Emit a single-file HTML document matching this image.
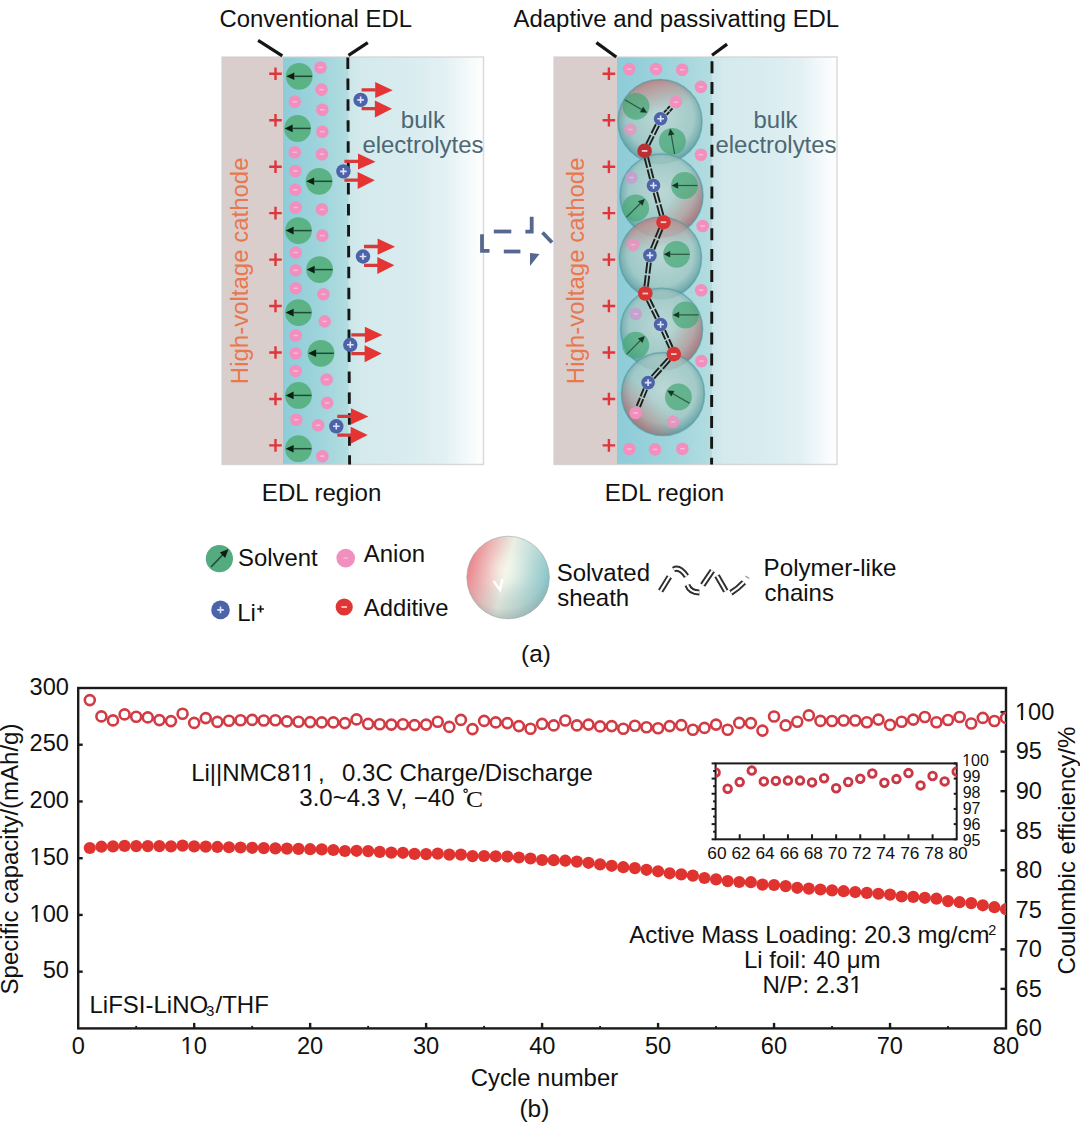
<!DOCTYPE html><html><head><meta charset="utf-8"><style>html,body{margin:0;padding:0;background:#fff;width:1080px;height:1122px;overflow:hidden}</style></head><body><svg width="1080" height="1122" viewBox="0 0 1080 1122" style="display:block;font-family:'Liberation Sans', sans-serif">
<defs>
<linearGradient id="edl" x1="0" x2="1" y1="0" y2="0"><stop offset="0" stop-color="#8dccd8"/><stop offset="0.6" stop-color="#a0d5dc"/><stop offset="1" stop-color="#b3dde0"/></linearGradient>
<linearGradient id="bulk" x1="0" x2="1" y1="0" y2="0"><stop offset="0" stop-color="#cbe5e9"/><stop offset="0.1" stop-color="#d4eaed"/><stop offset="0.5" stop-color="#daedf0"/><stop offset="0.7" stop-color="#e2f0f3"/><stop offset="0.86" stop-color="#f1f8f9"/><stop offset="0.97" stop-color="#fcfefe"/></linearGradient>
<radialGradient id="sph" cx="0.5" cy="0.45" r="0.55"><stop offset="0" stop-color="#c4d9d4" stop-opacity="0.78"/><stop offset="0.72" stop-color="#a2c7c2" stop-opacity="0.78"/><stop offset="1" stop-color="#5a9aa0" stop-opacity="0.9"/></radialGradient>
<linearGradient id="legsph" x1="0" x2="1" y1="0.2" y2="0.5"><stop offset="0" stop-color="#f08a8c"/><stop offset="0.3" stop-color="#f2d2cf"/><stop offset="0.5" stop-color="#e4f0e6"/><stop offset="0.75" stop-color="#b9dcd9"/><stop offset="1" stop-color="#86c3c8"/></linearGradient>
<radialGradient id="legshade" cx="0.4" cy="0.35" r="0.65"><stop offset="0" stop-color="#fff" stop-opacity="0.35"/><stop offset="0.7" stop-color="#fff" stop-opacity="0"/><stop offset="1" stop-color="#557" stop-opacity="0.25"/></radialGradient>
<clipPath id="plotclip"><rect x="78" y="688" width="928" height="340"/></clipPath>
<clipPath id="insetclip"><rect x="715.6" y="763.4" width="241.1" height="76"/></clipPath>
</defs>
<rect width="1080" height="1122" fill="#fff"/>
<rect x="347.5" y="57" width="136.0" height="407.5" fill="url(#bulk)"/>
<rect x="222" y="57" width="61" height="407.5" fill="#d9cecc"/>
<rect x="283" y="57" width="65.5" height="407.5" fill="url(#edl)"/>
<rect x="222" y="57" width="261.5" height="407.5" fill="none" stroke="#cfcfcf" stroke-opacity="0.8" stroke-width="1.4"/>
<rect x="711" y="57" width="126" height="407.5" fill="url(#bulk)"/>
<rect x="554" y="57" width="63" height="407.5" fill="#d9cecc"/>
<rect x="617" y="57" width="95" height="407.5" fill="url(#edl)"/>
<rect x="554" y="57" width="283" height="407.5" fill="none" stroke="#cfcfcf" stroke-opacity="0.8" stroke-width="1.4"/>
<path d="M269.2 73.8H281.8M275.5 67.5V80.1" stroke="#e0353a" stroke-width="2.4" fill="none"/>
<path d="M602.6 73.8H615.1999999999999M608.9 67.5V80.1" stroke="#e0353a" stroke-width="2.4" fill="none"/>
<path d="M269.2 120.25H281.8M275.5 113.95V126.55" stroke="#e0353a" stroke-width="2.4" fill="none"/>
<path d="M602.6 120.25H615.1999999999999M608.9 113.95V126.55" stroke="#e0353a" stroke-width="2.4" fill="none"/>
<path d="M269.2 166.7H281.8M275.5 160.39999999999998V173.0" stroke="#e0353a" stroke-width="2.4" fill="none"/>
<path d="M602.6 166.7H615.1999999999999M608.9 160.39999999999998V173.0" stroke="#e0353a" stroke-width="2.4" fill="none"/>
<path d="M269.2 213.15000000000003H281.8M275.5 206.85000000000002V219.45000000000005" stroke="#e0353a" stroke-width="2.4" fill="none"/>
<path d="M602.6 213.15000000000003H615.1999999999999M608.9 206.85000000000002V219.45000000000005" stroke="#e0353a" stroke-width="2.4" fill="none"/>
<path d="M269.2 259.6H281.8M275.5 253.3V265.90000000000003" stroke="#e0353a" stroke-width="2.4" fill="none"/>
<path d="M602.6 259.6H615.1999999999999M608.9 253.3V265.90000000000003" stroke="#e0353a" stroke-width="2.4" fill="none"/>
<path d="M269.2 306.05H281.8M275.5 299.75V312.35" stroke="#e0353a" stroke-width="2.4" fill="none"/>
<path d="M602.6 306.05H615.1999999999999M608.9 299.75V312.35" stroke="#e0353a" stroke-width="2.4" fill="none"/>
<path d="M269.2 352.50000000000006H281.8M275.5 346.20000000000005V358.80000000000007" stroke="#e0353a" stroke-width="2.4" fill="none"/>
<path d="M602.6 352.50000000000006H615.1999999999999M608.9 346.20000000000005V358.80000000000007" stroke="#e0353a" stroke-width="2.4" fill="none"/>
<path d="M269.2 398.95000000000005H281.8M275.5 392.65000000000003V405.25000000000006" stroke="#e0353a" stroke-width="2.4" fill="none"/>
<path d="M602.6 398.95000000000005H615.1999999999999M608.9 392.65000000000003V405.25000000000006" stroke="#e0353a" stroke-width="2.4" fill="none"/>
<path d="M269.2 445.40000000000003H281.8M275.5 439.1V451.70000000000005" stroke="#e0353a" stroke-width="2.4" fill="none"/>
<path d="M602.6 445.40000000000003H615.1999999999999M608.9 439.1V451.70000000000005" stroke="#e0353a" stroke-width="2.4" fill="none"/>
<circle cx="320.4" cy="67.5" r="6.3" fill="#f18fbf" fill-opacity="1"/>
<path d="M318.2 67.5H322.59999999999997" stroke="#fbd9e8" stroke-width="1.5" stroke-opacity="0.60"/>
<circle cx="321.5" cy="89.6" r="6.3" fill="#f18fbf" fill-opacity="1"/>
<path d="M319.3 89.6H323.7" stroke="#fbd9e8" stroke-width="1.5" stroke-opacity="0.60"/>
<circle cx="294.8" cy="101.8" r="6.3" fill="#f18fbf" fill-opacity="1"/>
<path d="M292.6 101.8H297.0" stroke="#fbd9e8" stroke-width="1.5" stroke-opacity="0.60"/>
<circle cx="322.3" cy="109.7" r="6.3" fill="#f18fbf" fill-opacity="1"/>
<path d="M320.1 109.7H324.5" stroke="#fbd9e8" stroke-width="1.5" stroke-opacity="0.60"/>
<circle cx="322.3" cy="131.7" r="6.3" fill="#f18fbf" fill-opacity="1"/>
<path d="M320.1 131.7H324.5" stroke="#fbd9e8" stroke-width="1.5" stroke-opacity="0.60"/>
<circle cx="294.8" cy="152.3" r="6.3" fill="#f18fbf" fill-opacity="1"/>
<path d="M292.6 152.3H297.0" stroke="#fbd9e8" stroke-width="1.5" stroke-opacity="0.60"/>
<circle cx="321.9" cy="154.2" r="6.3" fill="#f18fbf" fill-opacity="1"/>
<path d="M319.7 154.2H324.09999999999997" stroke="#fbd9e8" stroke-width="1.5" stroke-opacity="0.60"/>
<circle cx="295.3" cy="171" r="6.3" fill="#f18fbf" fill-opacity="1"/>
<path d="M293.1 171H297.5" stroke="#fbd9e8" stroke-width="1.5" stroke-opacity="0.60"/>
<circle cx="295.3" cy="189.8" r="6.3" fill="#f18fbf" fill-opacity="1"/>
<path d="M293.1 189.8H297.5" stroke="#fbd9e8" stroke-width="1.5" stroke-opacity="0.60"/>
<circle cx="295.7" cy="207.5" r="6.3" fill="#f18fbf" fill-opacity="1"/>
<path d="M293.5 207.5H297.9" stroke="#fbd9e8" stroke-width="1.5" stroke-opacity="0.60"/>
<circle cx="321.9" cy="209.4" r="6.3" fill="#f18fbf" fill-opacity="1"/>
<path d="M319.7 209.4H324.09999999999997" stroke="#fbd9e8" stroke-width="1.5" stroke-opacity="0.60"/>
<circle cx="322.3" cy="235.6" r="6.3" fill="#f18fbf" fill-opacity="1"/>
<path d="M320.1 235.6H324.5" stroke="#fbd9e8" stroke-width="1.5" stroke-opacity="0.60"/>
<circle cx="295.7" cy="252.5" r="6.3" fill="#f18fbf" fill-opacity="1"/>
<path d="M293.5 252.5H297.9" stroke="#fbd9e8" stroke-width="1.5" stroke-opacity="0.60"/>
<circle cx="295.7" cy="270.3" r="6.3" fill="#f18fbf" fill-opacity="1"/>
<path d="M293.5 270.3H297.9" stroke="#fbd9e8" stroke-width="1.5" stroke-opacity="0.60"/>
<circle cx="295.7" cy="288.3" r="6.3" fill="#f18fbf" fill-opacity="1"/>
<path d="M293.5 288.3H297.9" stroke="#fbd9e8" stroke-width="1.5" stroke-opacity="0.60"/>
<circle cx="323.4" cy="294.3" r="6.3" fill="#f18fbf" fill-opacity="1"/>
<path d="M321.2 294.3H325.59999999999997" stroke="#fbd9e8" stroke-width="1.5" stroke-opacity="0.60"/>
<circle cx="324.7" cy="321.4" r="6.3" fill="#f18fbf" fill-opacity="1"/>
<path d="M322.5 321.4H326.9" stroke="#fbd9e8" stroke-width="1.5" stroke-opacity="0.60"/>
<circle cx="295.7" cy="335.5" r="6.3" fill="#f18fbf" fill-opacity="1"/>
<path d="M293.5 335.5H297.9" stroke="#fbd9e8" stroke-width="1.5" stroke-opacity="0.60"/>
<circle cx="295.7" cy="353.3" r="6.3" fill="#f18fbf" fill-opacity="1"/>
<path d="M293.5 353.3H297.9" stroke="#fbd9e8" stroke-width="1.5" stroke-opacity="0.60"/>
<circle cx="295.7" cy="371" r="6.3" fill="#f18fbf" fill-opacity="1"/>
<path d="M293.5 371H297.9" stroke="#fbd9e8" stroke-width="1.5" stroke-opacity="0.60"/>
<circle cx="326.6" cy="379.5" r="6.3" fill="#f18fbf" fill-opacity="1"/>
<path d="M324.40000000000003 379.5H328.8" stroke="#fbd9e8" stroke-width="1.5" stroke-opacity="0.60"/>
<circle cx="327.1" cy="402.9" r="6.3" fill="#f18fbf" fill-opacity="1"/>
<path d="M324.90000000000003 402.9H329.3" stroke="#fbd9e8" stroke-width="1.5" stroke-opacity="0.60"/>
<circle cx="296.3" cy="419.7" r="6.3" fill="#f18fbf" fill-opacity="1"/>
<path d="M294.1 419.7H298.5" stroke="#fbd9e8" stroke-width="1.5" stroke-opacity="0.60"/>
<circle cx="318.1" cy="425.3" r="6.3" fill="#f18fbf" fill-opacity="1"/>
<path d="M315.90000000000003 425.3H320.3" stroke="#fbd9e8" stroke-width="1.5" stroke-opacity="0.60"/>
<circle cx="322.3" cy="456.2" r="6.3" fill="#f18fbf" fill-opacity="1"/>
<path d="M320.1 456.2H324.5" stroke="#fbd9e8" stroke-width="1.5" stroke-opacity="0.60"/>
<circle cx="299.2" cy="76.3" r="13.4" fill="#5ab285" fill-opacity="1"/>
<path d="M312.10 76.30L294.30 76.30" stroke="#1f4a33" stroke-width="1.5" stroke-opacity="1"/>
<path d="M286.30 76.30L294.30 72.50L294.30 80.10Z" fill="#0c1f14" fill-opacity="1"/>
<circle cx="297.6" cy="128.4" r="13.4" fill="#5ab285" fill-opacity="1"/>
<path d="M310.50 128.40L292.70 128.40" stroke="#1f4a33" stroke-width="1.5" stroke-opacity="1"/>
<path d="M284.70 128.40L292.70 124.60L292.70 132.20Z" fill="#0c1f14" fill-opacity="1"/>
<circle cx="319.1" cy="181.3" r="13.4" fill="#5ab285" fill-opacity="1"/>
<path d="M332.00 181.30L314.20 181.30" stroke="#1f4a33" stroke-width="1.5" stroke-opacity="1"/>
<path d="M306.20 181.30L314.20 177.50L314.20 185.10Z" fill="#0c1f14" fill-opacity="1"/>
<circle cx="298.5" cy="230.6" r="13.4" fill="#5ab285" fill-opacity="1"/>
<path d="M311.40 230.60L293.60 230.60" stroke="#1f4a33" stroke-width="1.5" stroke-opacity="1"/>
<path d="M285.60 230.60L293.60 226.80L293.60 234.40Z" fill="#0c1f14" fill-opacity="1"/>
<circle cx="319.6" cy="269.6" r="13.4" fill="#5ab285" fill-opacity="1"/>
<path d="M332.50 269.60L314.70 269.60" stroke="#1f4a33" stroke-width="1.5" stroke-opacity="1"/>
<path d="M306.70 269.60L314.70 265.80L314.70 273.40Z" fill="#0c1f14" fill-opacity="1"/>
<circle cx="298.5" cy="312.6" r="13.4" fill="#5ab285" fill-opacity="1"/>
<path d="M311.40 312.60L293.60 312.60" stroke="#1f4a33" stroke-width="1.5" stroke-opacity="1"/>
<path d="M285.60 312.60L293.60 308.80L293.60 316.40Z" fill="#0c1f14" fill-opacity="1"/>
<circle cx="321" cy="353.3" r="13.4" fill="#5ab285" fill-opacity="1"/>
<path d="M333.90 353.30L316.10 353.30" stroke="#1f4a33" stroke-width="1.5" stroke-opacity="1"/>
<path d="M308.10 353.30L316.10 349.50L316.10 357.10Z" fill="#0c1f14" fill-opacity="1"/>
<circle cx="298.5" cy="395.4" r="13.4" fill="#5ab285" fill-opacity="1"/>
<path d="M311.40 395.40L293.60 395.40" stroke="#1f4a33" stroke-width="1.5" stroke-opacity="1"/>
<path d="M285.60 395.40L293.60 391.60L293.60 399.20Z" fill="#0c1f14" fill-opacity="1"/>
<circle cx="298.5" cy="448.7" r="13.4" fill="#5ab285" fill-opacity="1"/>
<path d="M311.40 448.70L293.60 448.70" stroke="#1f4a33" stroke-width="1.5" stroke-opacity="1"/>
<path d="M285.60 448.70L293.60 444.90L293.60 452.50Z" fill="#0c1f14" fill-opacity="1"/>
<path d="M347.80 57.50L347.85 69.00" stroke="#161616" stroke-width="2.9"/>
<path d="M347.89 78.43L347.94 89.93" stroke="#161616" stroke-width="2.9"/>
<path d="M347.99 99.36L348.04 110.86" stroke="#161616" stroke-width="2.9"/>
<path d="M348.08 120.29L348.13 131.79" stroke="#161616" stroke-width="2.9"/>
<path d="M348.17 141.22L348.22 152.72" stroke="#161616" stroke-width="2.9"/>
<path d="M348.26 162.15L348.31 173.65" stroke="#161616" stroke-width="2.9"/>
<path d="M348.36 183.08L348.41 194.58" stroke="#161616" stroke-width="2.9"/>
<path d="M348.45 204.01L348.50 215.51" stroke="#161616" stroke-width="2.9"/>
<path d="M348.54 224.94L348.59 236.44" stroke="#161616" stroke-width="2.9"/>
<path d="M348.63 245.87L348.68 257.37" stroke="#161616" stroke-width="2.9"/>
<path d="M348.73 266.80L348.78 278.30" stroke="#161616" stroke-width="2.9"/>
<path d="M348.82 287.73L348.87 299.23" stroke="#161616" stroke-width="2.9"/>
<path d="M348.91 308.66L348.96 320.16" stroke="#161616" stroke-width="2.9"/>
<path d="M349.00 329.59L349.05 341.09" stroke="#161616" stroke-width="2.9"/>
<path d="M349.10 350.52L349.15 362.02" stroke="#161616" stroke-width="2.9"/>
<path d="M349.19 371.45L349.24 382.95" stroke="#161616" stroke-width="2.9"/>
<path d="M349.28 392.38L349.33 403.88" stroke="#161616" stroke-width="2.9"/>
<path d="M349.37 413.31L349.42 424.81" stroke="#161616" stroke-width="2.9"/>
<path d="M349.47 434.24L349.52 445.74" stroke="#161616" stroke-width="2.9"/>
<path d="M349.56 455.17L349.60 464.50" stroke="#161616" stroke-width="2.9"/>
<path d="M361.6 89.9H375.6M361.6 108.7H375.6" stroke="#d63a3a" stroke-width="3.3"/>
<path d="M375.20000000000005 81.9L392.70000000000005 90.2L375.20000000000005 98.10000000000001Z" fill="#e53434"/>
<path d="M374.90000000000003 100.4L392.0 108.7L374.90000000000003 117.4Z" fill="#e53434"/>
<circle cx="360.6" cy="99.9" r="7.2" fill="#4d63a8"/>
<path d="M357.3 99.9H363.90000000000003M360.6 96.60000000000001V103.2" stroke="#dfe3ff" stroke-width="1.6"/>
<path d="M344.4 161.4H358.4M344.4 180.20000000000002H358.4" stroke="#d63a3a" stroke-width="3.3"/>
<path d="M358.0 153.4L375.5 161.70000000000002L358.0 169.6Z" fill="#e53434"/>
<path d="M357.7 171.9L374.79999999999995 180.20000000000002L357.7 188.9Z" fill="#e53434"/>
<circle cx="343.4" cy="171.4" r="7.2" fill="#4d63a8"/>
<path d="M340.09999999999997 171.4H346.7M343.4 168.1V174.70000000000002" stroke="#dfe3ff" stroke-width="1.6"/>
<path d="M364 246.5H378M364 265.3H378" stroke="#d63a3a" stroke-width="3.3"/>
<path d="M377.6 238.5L395.1 246.8L377.6 254.7Z" fill="#e53434"/>
<path d="M377.3 257.0L394.4 265.3L377.3 274.0Z" fill="#e53434"/>
<circle cx="363" cy="256.5" r="7.2" fill="#4d63a8"/>
<path d="M359.7 256.5H366.3M363 253.2V259.8" stroke="#dfe3ff" stroke-width="1.6"/>
<path d="M351.3 334.8H365.3M351.3 353.6H365.3" stroke="#d63a3a" stroke-width="3.3"/>
<path d="M364.90000000000003 326.8L382.40000000000003 335.1L364.90000000000003 343.0Z" fill="#e53434"/>
<path d="M364.6 345.3L381.7 353.6L364.6 362.3Z" fill="#e53434"/>
<circle cx="350.3" cy="344.8" r="7.2" fill="#4d63a8"/>
<path d="M347.0 344.8H353.6M350.3 341.5V348.1" stroke="#dfe3ff" stroke-width="1.6"/>
<path d="M337.3 416.3H351.3M337.3 435.1H351.3" stroke="#d63a3a" stroke-width="3.3"/>
<path d="M350.90000000000003 408.3L368.40000000000003 416.6L350.90000000000003 424.5Z" fill="#e53434"/>
<path d="M350.6 426.8L367.7 435.1L350.6 443.8Z" fill="#e53434"/>
<circle cx="336.3" cy="426.3" r="7.2" fill="#4d63a8"/>
<path d="M333.0 426.3H339.6M336.3 423.0V429.6" stroke="#dfe3ff" stroke-width="1.6"/>
<path d="M258.1 40.4L282.3 55.9" stroke="#151515" stroke-width="3.2" stroke-linecap="butt"/>
<path d="M348.5 55.4L367.8 42.6" stroke="#151515" stroke-width="3.2" stroke-linecap="butt"/>
<path d="M596.4 42.6L616.3 57" stroke="#151515" stroke-width="3.2" stroke-linecap="butt"/>
<path d="M712 55.2L727.1 44.1" stroke="#151515" stroke-width="3.2" stroke-linecap="butt"/>
<circle cx="629.2" cy="69.1" r="6.3" fill="#f18fbf" fill-opacity="1"/>
<path d="M627.0 69.1H631.4000000000001" stroke="#fbd9e8" stroke-width="1.5" stroke-opacity="0.60"/>
<circle cx="656" cy="69" r="6.3" fill="#f18fbf" fill-opacity="1"/>
<path d="M653.8 69H658.2" stroke="#fbd9e8" stroke-width="1.5" stroke-opacity="0.60"/>
<circle cx="682.2" cy="69.8" r="6.3" fill="#f18fbf" fill-opacity="1"/>
<path d="M680.0 69.8H684.4000000000001" stroke="#fbd9e8" stroke-width="1.5" stroke-opacity="0.60"/>
<circle cx="700.9" cy="86.9" r="6.3" fill="#f18fbf" fill-opacity="1"/>
<path d="M698.6999999999999 86.9H703.1" stroke="#fbd9e8" stroke-width="1.5" stroke-opacity="0.60"/>
<circle cx="700.9" cy="154.7" r="6.3" fill="#f18fbf" fill-opacity="1"/>
<path d="M698.6999999999999 154.7H703.1" stroke="#fbd9e8" stroke-width="1.5" stroke-opacity="0.60"/>
<circle cx="702.7" cy="226" r="6.3" fill="#f18fbf" fill-opacity="1"/>
<path d="M700.5 226H704.9000000000001" stroke="#fbd9e8" stroke-width="1.5" stroke-opacity="0.60"/>
<circle cx="701.2" cy="290.2" r="6.3" fill="#f18fbf" fill-opacity="1"/>
<path d="M699.0 290.2H703.4000000000001" stroke="#fbd9e8" stroke-width="1.5" stroke-opacity="0.60"/>
<circle cx="701.4" cy="361.1" r="6.3" fill="#f18fbf" fill-opacity="1"/>
<path d="M699.1999999999999 361.1H703.6" stroke="#fbd9e8" stroke-width="1.5" stroke-opacity="0.60"/>
<circle cx="629.4" cy="449" r="6.3" fill="#f18fbf" fill-opacity="1"/>
<path d="M627.1999999999999 449H631.6" stroke="#fbd9e8" stroke-width="1.5" stroke-opacity="0.60"/>
<circle cx="655" cy="449.4" r="6.3" fill="#f18fbf" fill-opacity="1"/>
<path d="M652.8 449.4H657.2" stroke="#fbd9e8" stroke-width="1.5" stroke-opacity="0.60"/>
<circle cx="682.4" cy="448.7" r="6.3" fill="#f18fbf" fill-opacity="1"/>
<path d="M680.1999999999999 448.7H684.6" stroke="#fbd9e8" stroke-width="1.5" stroke-opacity="0.60"/>
<path d="M712.00 61.20L711.99 73.20" stroke="#161616" stroke-width="2.9"/>
<path d="M711.98 82.07L711.97 94.07" stroke="#161616" stroke-width="2.9"/>
<path d="M711.96 102.94L711.95 114.94" stroke="#161616" stroke-width="2.9"/>
<path d="M711.94 123.81L711.93 135.81" stroke="#161616" stroke-width="2.9"/>
<path d="M711.92 144.68L711.91 156.68" stroke="#161616" stroke-width="2.9"/>
<path d="M711.90 165.55L711.88 177.55" stroke="#161616" stroke-width="2.9"/>
<path d="M711.88 186.42L711.86 198.42" stroke="#161616" stroke-width="2.9"/>
<path d="M711.86 207.29L711.84 219.29" stroke="#161616" stroke-width="2.9"/>
<path d="M711.83 228.16L711.82 240.16" stroke="#161616" stroke-width="2.9"/>
<path d="M711.81 249.03L711.80 261.03" stroke="#161616" stroke-width="2.9"/>
<path d="M711.79 269.90L711.78 281.90" stroke="#161616" stroke-width="2.9"/>
<path d="M711.77 290.77L711.76 302.77" stroke="#161616" stroke-width="2.9"/>
<path d="M711.75 311.64L711.74 323.64" stroke="#161616" stroke-width="2.9"/>
<path d="M711.73 332.51L711.72 344.51" stroke="#161616" stroke-width="2.9"/>
<path d="M711.71 353.38L711.70 365.38" stroke="#161616" stroke-width="2.9"/>
<path d="M711.69 374.25L711.68 386.25" stroke="#161616" stroke-width="2.9"/>
<path d="M711.67 395.12L711.66 407.12" stroke="#161616" stroke-width="2.9"/>
<path d="M711.65 415.99L711.64 427.99" stroke="#161616" stroke-width="2.9"/>
<path d="M711.63 436.86L711.62 448.86" stroke="#161616" stroke-width="2.9"/>
<path d="M711.61 457.73L711.60 464.50" stroke="#161616" stroke-width="2.9"/>
<linearGradient id="rt0" x1="0.63" y1="0.98" x2="0.37" y2="0.02"><stop offset="0" stop-color="#d07070" stop-opacity="0"/><stop offset="0.62" stop-color="#d07070" stop-opacity="0"/><stop offset="1" stop-color="#d8585e" stop-opacity="0.55"/></linearGradient>
<circle cx="660" cy="121.5" r="42" fill="url(#sph)"/>
<circle cx="660" cy="121.5" r="42" fill="url(#rt0)" stroke="#4f979e" stroke-opacity="0.6" stroke-width="1.6"/>
<linearGradient id="rt1" x1="0.09" y1="0.21" x2="0.91" y2="0.79"><stop offset="0" stop-color="#d07070" stop-opacity="0"/><stop offset="0.62" stop-color="#d07070" stop-opacity="0"/><stop offset="1" stop-color="#d8585e" stop-opacity="0.55"/></linearGradient>
<circle cx="661.5" cy="195.5" r="41.5" fill="url(#sph)"/>
<circle cx="661.5" cy="195.5" r="41.5" fill="url(#rt1)" stroke="#4f979e" stroke-opacity="0.6" stroke-width="1.6"/>
<linearGradient id="rt2" x1="0.59" y1="0.99" x2="0.41" y2="0.01"><stop offset="0" stop-color="#d07070" stop-opacity="0"/><stop offset="0.62" stop-color="#d07070" stop-opacity="0"/><stop offset="1" stop-color="#d8585e" stop-opacity="0.55"/></linearGradient>
<circle cx="660.5" cy="258" r="41" fill="url(#sph)"/>
<circle cx="660.5" cy="258" r="41" fill="url(#rt2)" stroke="#4f979e" stroke-opacity="0.6" stroke-width="1.6"/>
<linearGradient id="rt3" x1="0.07" y1="0.25" x2="0.93" y2="0.75"><stop offset="0" stop-color="#d07070" stop-opacity="0"/><stop offset="0.62" stop-color="#d07070" stop-opacity="0"/><stop offset="1" stop-color="#d8585e" stop-opacity="0.55"/></linearGradient>
<circle cx="661.6" cy="329.2" r="41" fill="url(#sph)"/>
<circle cx="661.6" cy="329.2" r="41" fill="url(#rt3)" stroke="#4f979e" stroke-opacity="0.6" stroke-width="1.6"/>
<linearGradient id="rt4" x1="0.85" y1="0.15" x2="0.15" y2="0.85"><stop offset="0" stop-color="#d07070" stop-opacity="0"/><stop offset="0.62" stop-color="#d07070" stop-opacity="0"/><stop offset="1" stop-color="#d8585e" stop-opacity="0.55"/></linearGradient>
<circle cx="663" cy="394" r="41.5" fill="url(#sph)"/>
<circle cx="663" cy="394" r="41.5" fill="url(#rt4)" stroke="#4f979e" stroke-opacity="0.6" stroke-width="1.6"/>
<path d="M672.46 108.44L666.62 114.82" stroke="#1f1f1f" stroke-width="1.9" stroke-dasharray="3.98 0.69"/>
<path d="M669.88 106.08L664.04 112.46" stroke="#1f1f1f" stroke-width="1.9" stroke-dasharray="3.98 0.69"/>
<path d="M659.04 125.85L649.29 145.42" stroke="#1f1f1f" stroke-width="1.9" stroke-dasharray="10.06 1.75"/>
<path d="M655.91 124.28L646.16 143.85" stroke="#1f1f1f" stroke-width="1.9" stroke-dasharray="10.06 1.75"/>
<path d="M648.04 157.24L653.45 178.28" stroke="#1f1f1f" stroke-width="1.9" stroke-dasharray="9.99 1.74"/>
<path d="M644.65 158.12L650.06 179.16" stroke="#1f1f1f" stroke-width="1.9" stroke-dasharray="9.99 1.74"/>
<path d="M657.03 191.79L663.35 214.99" stroke="#1f1f1f" stroke-width="1.9" stroke-dasharray="11.06 1.92"/>
<path d="M653.65 192.71L659.97 215.91" stroke="#1f1f1f" stroke-width="1.9" stroke-dasharray="11.06 1.92"/>
<path d="M662.47 229.34L654.17 249.59" stroke="#1f1f1f" stroke-width="1.9" stroke-dasharray="10.06 1.75"/>
<path d="M659.23 228.01L650.93 248.26" stroke="#1f1f1f" stroke-width="1.9" stroke-dasharray="10.06 1.75"/>
<path d="M650.80 262.56L647.88 286.76" stroke="#1f1f1f" stroke-width="1.9" stroke-dasharray="11.21 1.95"/>
<path d="M647.32 262.14L644.40 286.34" stroke="#1f1f1f" stroke-width="1.9" stroke-dasharray="11.21 1.95"/>
<path d="M649.97 299.00L659.07 317.45" stroke="#1f1f1f" stroke-width="1.9" stroke-dasharray="9.46 1.65"/>
<path d="M646.83 300.55L655.93 319.00" stroke="#1f1f1f" stroke-width="1.9" stroke-dasharray="9.46 1.65"/>
<path d="M665.05 330.18L672.55 346.99" stroke="#1f1f1f" stroke-width="1.9" stroke-dasharray="8.47 1.47"/>
<path d="M661.85 331.61L669.35 348.42" stroke="#1f1f1f" stroke-width="1.9" stroke-dasharray="8.47 1.47"/>
<path d="M670.41 360.47L654.09 378.57" stroke="#1f1f1f" stroke-width="1.9" stroke-dasharray="11.21 1.95"/>
<path d="M667.81 358.13L651.49 376.23" stroke="#1f1f1f" stroke-width="1.9" stroke-dasharray="11.21 1.95"/>
<path d="M647.08 389.74L639.96 407.18" stroke="#1f1f1f" stroke-width="1.9" stroke-dasharray="8.66 1.51"/>
<path d="M643.84 388.42L636.72 405.86" stroke="#1f1f1f" stroke-width="1.9" stroke-dasharray="8.66 1.51"/>
<circle cx="675.9" cy="102.1" r="6.3" fill="#f18fbf" fill-opacity="1"/>
<path d="M673.6999999999999 102.1H678.1" stroke="#fbd9e8" stroke-width="1.5" stroke-opacity="0.60"/>
<circle cx="630.3" cy="129.5" r="6.3" fill="#f18fbf" fill-opacity="0.7"/>
<path d="M628.0999999999999 129.5H632.5" stroke="#fbd9e8" stroke-width="1.5" stroke-opacity="0.42"/>
<circle cx="636" cy="106.3" r="13.4" fill="#47a776" fill-opacity="0.72"/>
<path d="M624.83 99.85L641.54 109.50" stroke="#1f4a33" stroke-width="1.2" stroke-opacity="0.85"/>
<path d="M647.17 112.75L639.94 112.27L643.14 106.73Z" fill="#0c1f14" fill-opacity="0.85"/>
<circle cx="672.4" cy="141.3" r="13.4" fill="#47a776" fill-opacity="0.72"/>
<path d="M674.64 154.00L671.29 135.00" stroke="#1f4a33" stroke-width="1.2" stroke-opacity="0.85"/>
<path d="M670.16 128.60L674.44 134.44L668.14 135.55Z" fill="#0c1f14" fill-opacity="0.85"/>
<circle cx="660.6" cy="118.8" r="6.8" fill="#4d63a8"/>
<path d="M657.3000000000001 118.8H663.9M660.6 115.5V122.1" stroke="#dfe3ff" stroke-width="1.6"/>
<circle cx="644.6" cy="150.9" r="7.3" fill="#b92f33"/>
<path d="M641.8000000000001 150.9H647.4" stroke="#f6c8c8" stroke-width="1.8"/>
<circle cx="631.4" cy="177.6" r="6.3" fill="#c99ad0" fill-opacity="0.8"/>
<path d="M629.1999999999999 177.6H633.6" stroke="#fbd9e8" stroke-width="1.5" stroke-opacity="0.48"/>
<circle cx="653.5" cy="185.5" r="6.8" fill="#4d63a8"/>
<path d="M650.2 185.5H656.8M653.5 182.2V188.8" stroke="#dfe3ff" stroke-width="1.6"/>
<circle cx="684.5" cy="185.5" r="13.4" fill="#47a776" fill-opacity="0.72"/>
<path d="M697.40 185.50L678.10 185.50" stroke="#1f4a33" stroke-width="1.2" stroke-opacity="0.85"/>
<path d="M671.60 185.50L678.10 182.30L678.10 188.70Z" fill="#0c1f14" fill-opacity="0.85"/>
<circle cx="635.7" cy="208" r="13.4" fill="#47a776" fill-opacity="0.72"/>
<path d="M626.58 217.12L640.23 203.47" stroke="#1f4a33" stroke-width="1.2" stroke-opacity="0.85"/>
<path d="M644.82 198.88L642.49 205.74L637.96 201.21Z" fill="#0c1f14" fill-opacity="0.85"/>
<circle cx="663.5" cy="222.2" r="7.3" fill="#d83434"/>
<path d="M660.7 222.2H666.3" stroke="#f6c8c8" stroke-width="1.8"/>
<circle cx="633.2" cy="244.7" r="6.3" fill="#f18fbf" fill-opacity="0.8"/>
<path d="M631.0 244.7H635.4000000000001" stroke="#fbd9e8" stroke-width="1.5" stroke-opacity="0.48"/>
<circle cx="649.9" cy="255.4" r="6.8" fill="#4d63a8"/>
<path d="M646.6 255.4H653.1999999999999M649.9 252.1V258.7" stroke="#dfe3ff" stroke-width="1.6"/>
<circle cx="676.6" cy="254.3" r="13.4" fill="#47a776" fill-opacity="0.72"/>
<path d="M689.50 254.30L670.20 254.30" stroke="#1f4a33" stroke-width="1.2" stroke-opacity="0.85"/>
<path d="M663.70 254.30L670.20 251.10L670.20 257.50Z" fill="#0c1f14" fill-opacity="0.85"/>
<circle cx="645.3" cy="293.5" r="7.3" fill="#d83434"/>
<path d="M642.5 293.5H648.0999999999999" stroke="#f6c8c8" stroke-width="1.8"/>
<circle cx="635.7" cy="313.8" r="6.3" fill="#c99ad0" fill-opacity="0.8"/>
<path d="M633.5 313.8H637.9000000000001" stroke="#fbd9e8" stroke-width="1.5" stroke-opacity="0.48"/>
<circle cx="685.6" cy="314.9" r="13.4" fill="#47a776" fill-opacity="0.72"/>
<path d="M698.50 314.90L679.20 314.90" stroke="#1f4a33" stroke-width="1.2" stroke-opacity="0.85"/>
<path d="M672.70 314.90L679.20 311.70L679.20 318.10Z" fill="#0c1f14" fill-opacity="0.85"/>
<circle cx="660.6" cy="324.5" r="6.8" fill="#4d63a8"/>
<path d="M657.3000000000001 324.5H663.9M660.6 321.2V327.8" stroke="#dfe3ff" stroke-width="1.6"/>
<circle cx="635.7" cy="345.2" r="13.4" fill="#47a776" fill-opacity="0.72"/>
<path d="M626.58 354.32L640.23 340.67" stroke="#1f4a33" stroke-width="1.2" stroke-opacity="0.85"/>
<path d="M644.82 336.08L642.49 342.94L637.96 338.41Z" fill="#0c1f14" fill-opacity="0.85"/>
<circle cx="673.8" cy="354.1" r="7.3" fill="#d83434"/>
<path d="M671.0 354.1H676.5999999999999" stroke="#f6c8c8" stroke-width="1.8"/>
<circle cx="648.1" cy="382.6" r="6.8" fill="#4d63a8"/>
<path d="M644.8000000000001 382.6H651.4M648.1 379.3V385.90000000000003" stroke="#dfe3ff" stroke-width="1.6"/>
<circle cx="678.4" cy="396.9" r="13.4" fill="#47a776" fill-opacity="0.72"/>
<path d="M689.57 403.35L672.86 393.70" stroke="#1f4a33" stroke-width="1.2" stroke-opacity="0.85"/>
<path d="M667.23 390.45L674.46 390.93L671.26 396.47Z" fill="#0c1f14" fill-opacity="0.85"/>
<circle cx="635.7" cy="413" r="6.3" fill="#f18fbf" fill-opacity="1"/>
<path d="M633.5 413H637.9000000000001" stroke="#fbd9e8" stroke-width="1.5" stroke-opacity="0.60"/>
<circle cx="673.1" cy="421.9" r="6.3" fill="#f18fbf" fill-opacity="0.85"/>
<path d="M670.9 421.9H675.3000000000001" stroke="#fbd9e8" stroke-width="1.5" stroke-opacity="0.51"/>
<g stroke="#56688f" stroke-width="3.8" fill="none" stroke-linecap="butt">
<path d="M482 234.2V250.8H489.5"/>
<path d="M493.8 231.5H511.3"/>
<path d="M525.4 231.6H531.7V216.7"/>
<path d="M542.5 232.5L552 242.5"/>
<path d="M503.8 251.5H520.4"/>
</g>
<path d="M530 266L539.5 254L530 253Z" fill="#56688f"/>
<text x="219.49" y="26.60" font-size="23.882468168462292" fill="#111" >Conventional EDL</text>
<text x="513.55" y="26.90" font-size="23.924373674562382" fill="#111" >Adaptive and passivatting EDL</text>
<text x="400.74" y="128.30" font-size="24.160529217199564" fill="#4d6873" >bulk</text>
<text x="362.38" y="153.10" font-size="23.96061586741199" fill="#4d6873" >electrolytes</text>
<text x="753.56" y="128.30" font-size="23.934729878721047" fill="#4d6873" >bulk</text>
<text x="715.48" y="153.10" font-size="23.94053152888105" fill="#4d6873" >electrolytes</text>
<text transform="translate(248.30,382.20) rotate(-90)" x="-1.97" y="0" font-size="23.99" fill="#e9774f">High-voltage cathode</text>
<text transform="translate(584.10,382.20) rotate(-90)" x="-1.97" y="0" font-size="23.99" fill="#e9774f">High-voltage cathode</text>
<text x="261.83" y="500.90" font-size="24.073524384112616" fill="#111" >EDL region</text>
<text x="604.73" y="500.90" font-size="24.073524384112616" fill="#111" >EDL region</text>
<circle cx="219.4" cy="558.7" r="13.6" fill="#55ab80"/>
<path d="M211 567L223.5 554" stroke="#1f4a33" stroke-width="1.6"/>
<path d="M228.5 549L219.8 552.6L225.2 558Z" fill="#0c1f14"/>
<text x="238.02" y="566.40" font-size="23.882671426446528" fill="#111" >Solvent</text>
<circle cx="345.7" cy="558.1" r="9.3" fill="#f18fbf" fill-opacity="1"/>
<path d="M343.5 558.1H347.9" stroke="#fbd9e8" stroke-width="1.5" stroke-opacity="0.60"/>
<text x="363.85" y="561.60" font-size="23.928798274848077" fill="#111" >Anion</text>
<circle cx="220.5" cy="609.9" r="9.3" fill="#4d63a8"/>
<path d="M217.2 609.9H223.8M220.5 606.6V613.1999999999999" stroke="#dfe3ff" stroke-width="1.6"/>
<text x="237.13" y="620.60" font-size="24" fill="#111" >Li</text>
<path d="M257.2 609H263.9M260.55 605.4V612.6" stroke="#111" stroke-width="1.7"/>
<circle cx="344.2" cy="607" r="8.6" fill="#e03535"/>
<path d="M341.4 607H347.0" stroke="#f6c8c8" stroke-width="1.8"/>
<text x="363.85" y="616.00" font-size="23.809317202058132" fill="#111" >Additive</text>
<defs>
<linearGradient id="ls0" x1="0" y1="0.35" x2="1" y2="0.6"><stop offset="0" stop-color="#ec8088"/><stop offset="0.28" stop-color="#f0c2c0"/><stop offset="0.47" stop-color="#ecf1e5"/><stop offset="0.68" stop-color="#c6e1dc"/><stop offset="1" stop-color="#84c3c8"/></linearGradient>
<radialGradient id="ls1" cx="0.47" cy="0.4" r="0.6"><stop offset="0" stop-color="#fbfdf0" stop-opacity="0.55"/><stop offset="0.35" stop-color="#fbfdf0" stop-opacity="0.1"/><stop offset="0.8" stop-color="#8a9a98" stop-opacity="0"/><stop offset="1" stop-color="#8a9a98" stop-opacity="0.3"/></radialGradient>
<linearGradient id="ls2" x1="0" y1="0" x2="0" y2="1"><stop offset="0" stop-color="#f0b0b0" stop-opacity="0.0"/><stop offset="1" stop-color="#f0b0b0" stop-opacity="0"/></linearGradient>
<linearGradient id="ls3" x1="0" y1="0.55" x2="0" y2="1"><stop offset="0" stop-color="#9aa8a2" stop-opacity="0"/><stop offset="1" stop-color="#9aa8a2" stop-opacity="0.35"/></linearGradient>
</defs>
<circle cx="508.1" cy="577.5" r="41.3" fill="url(#ls0)"/>
<circle cx="508.1" cy="577.5" r="41.3" fill="url(#ls1)"/>
<circle cx="508.1" cy="577.5" r="41.3" fill="url(#ls2)"/>
<circle cx="508.1" cy="577.5" r="41.3" fill="url(#ls3)"/>
<circle cx="508.1" cy="577.5" r="41.3" fill="none" stroke="#9aa9a8" stroke-opacity="0.6" stroke-width="1"/>
<path d="M493.5 581L500 590L502.5 579" stroke="#fff" stroke-width="2.3" fill="none"/>
<text x="556.71" y="580.90" font-size="23.983679793415117" fill="#111" >Solvated</text>
<text x="557.13" y="606.30" font-size="24" fill="#111" >sheath</text>
<text x="763.62" y="576.00" font-size="24.169637503406918" fill="#111" >Polymer-like</text>
<text x="764.58" y="600.60" font-size="24" fill="#111" >chains</text>
<path d="M660.6 591L669.4 576.7" stroke="#2e2e2e" stroke-width="6" fill="none"/>
<path d="M673.5 569.5Q679.5 566 686.5 576.2" stroke="#2e2e2e" stroke-width="6" fill="none"/>
<path d="M687.4 585Q690 592.5 699.4 592.4" stroke="#2e2e2e" stroke-width="6" fill="none"/>
<path d="M702.7 585L712.4 570.6" stroke="#2e2e2e" stroke-width="6" fill="none"/>
<path d="M717 575.7L725.8 591" stroke="#2e2e2e" stroke-width="6" fill="none"/>
<path d="M730.9 592.9Q738 588.5 743.9 582.2" stroke="#2e2e2e" stroke-width="6" fill="none"/>
<path d="M745.5 576L749.2 578.5" stroke="#999" stroke-width="1.4" fill="none"/>
<path d="M660.6 591L669.4 576.7" stroke="#fff" stroke-width="2.2" fill="none"/>
<path d="M673.5 569.5Q679.5 566 686.5 576.2" stroke="#fff" stroke-width="2.2" fill="none"/>
<path d="M687.4 585Q690 592.5 699.4 592.4" stroke="#fff" stroke-width="2.2" fill="none"/>
<path d="M702.7 585L712.4 570.6" stroke="#fff" stroke-width="2.2" fill="none"/>
<path d="M717 575.7L725.8 591" stroke="#fff" stroke-width="2.2" fill="none"/>
<path d="M730.9 592.9Q738 588.5 743.9 582.2" stroke="#fff" stroke-width="2.2" fill="none"/>
<text x="521.09" y="662.20" font-size="24.31373943975094" fill="#111" >(a)</text>
<g stroke="#1a1a1a" stroke-width="2.4" fill="none">
<rect x="78.2" y="688" width="927.8" height="340.4000000000001"/>
<path d="M78.2 971.67H82.7"/>
<path d="M78.2 914.93H82.7"/>
<path d="M78.2 858.20H82.7"/>
<path d="M78.2 801.47H82.7"/>
<path d="M78.2 744.73H82.7"/>
<path d="M1006 988.86H1000.5"/>
<path d="M1006 949.33H1000.5"/>
<path d="M1006 909.79H1000.5"/>
<path d="M1006 870.25H1000.5"/>
<path d="M1006 830.71H1000.5"/>
<path d="M1006 791.18H1000.5"/>
<path d="M1006 751.64H1000.5"/>
<path d="M1006 712.10H1000.5"/>
<path d="M194.18 1028.4V1022.9000000000001"/>
<path d="M310.15 1028.4V1022.9000000000001"/>
<path d="M426.12 1028.4V1022.9000000000001"/>
<path d="M542.10 1028.4V1022.9000000000001"/>
<path d="M658.08 1028.4V1022.9000000000001"/>
<path d="M774.05 1028.4V1022.9000000000001"/>
<path d="M890.03 1028.4V1022.9000000000001"/>
</g>
<g stroke="#1a1a1a" stroke-width="1.8" fill="none">
<path d="M136.19 1028.4V1025.9"/>
<path d="M252.16 1028.4V1025.9"/>
<path d="M368.14 1028.4V1025.9"/>
<path d="M484.11 1028.4V1025.9"/>
<path d="M600.09 1028.4V1025.9"/>
<path d="M716.06 1028.4V1025.9"/>
<path d="M832.04 1028.4V1025.9"/>
<path d="M948.01 1028.4V1025.9"/>
</g>
<g clip-path="url(#plotclip)">
<circle cx="89.80" cy="848.00" r="6.1" fill="#e0332f"/>
<circle cx="101.40" cy="846.70" r="6.1" fill="#e0332f"/>
<circle cx="112.99" cy="846.40" r="6.1" fill="#e0332f"/>
<circle cx="124.59" cy="845.90" r="6.1" fill="#e0332f"/>
<circle cx="136.19" cy="846.10" r="6.1" fill="#e0332f"/>
<circle cx="147.78" cy="846.10" r="6.1" fill="#e0332f"/>
<circle cx="159.38" cy="846.10" r="6.1" fill="#e0332f"/>
<circle cx="170.98" cy="846.40" r="6.1" fill="#e0332f"/>
<circle cx="182.58" cy="845.60" r="6.1" fill="#e0332f"/>
<circle cx="194.18" cy="846.40" r="6.1" fill="#e0332f"/>
<circle cx="205.77" cy="846.68" r="6.1" fill="#e0332f"/>
<circle cx="217.37" cy="846.96" r="6.1" fill="#e0332f"/>
<circle cx="228.97" cy="847.24" r="6.1" fill="#e0332f"/>
<circle cx="240.56" cy="847.52" r="6.1" fill="#e0332f"/>
<circle cx="252.16" cy="847.80" r="6.1" fill="#e0332f"/>
<circle cx="263.76" cy="848.08" r="6.1" fill="#e0332f"/>
<circle cx="275.36" cy="848.36" r="6.1" fill="#e0332f"/>
<circle cx="286.95" cy="848.64" r="6.1" fill="#e0332f"/>
<circle cx="298.55" cy="848.92" r="6.1" fill="#e0332f"/>
<circle cx="310.15" cy="849.20" r="6.1" fill="#e0332f"/>
<circle cx="321.75" cy="849.40" r="6.1" fill="#e0332f"/>
<circle cx="333.34" cy="850.00" r="6.1" fill="#e0332f"/>
<circle cx="344.94" cy="851.00" r="6.1" fill="#e0332f"/>
<circle cx="356.54" cy="850.80" r="6.1" fill="#e0332f"/>
<circle cx="368.14" cy="851.10" r="6.1" fill="#e0332f"/>
<circle cx="379.73" cy="851.90" r="6.1" fill="#e0332f"/>
<circle cx="391.33" cy="852.60" r="6.1" fill="#e0332f"/>
<circle cx="402.93" cy="852.80" r="6.1" fill="#e0332f"/>
<circle cx="414.53" cy="853.90" r="6.1" fill="#e0332f"/>
<circle cx="426.12" cy="854.10" r="6.1" fill="#e0332f"/>
<circle cx="437.72" cy="853.60" r="6.1" fill="#e0332f"/>
<circle cx="449.32" cy="854.60" r="6.1" fill="#e0332f"/>
<circle cx="460.92" cy="854.60" r="6.1" fill="#e0332f"/>
<circle cx="472.51" cy="856.10" r="6.1" fill="#e0332f"/>
<circle cx="484.11" cy="856.00" r="6.1" fill="#e0332f"/>
<circle cx="495.71" cy="856.30" r="6.1" fill="#e0332f"/>
<circle cx="507.31" cy="856.50" r="6.1" fill="#e0332f"/>
<circle cx="518.91" cy="857.50" r="6.1" fill="#e0332f"/>
<circle cx="530.50" cy="858.50" r="6.1" fill="#e0332f"/>
<circle cx="542.10" cy="860.00" r="6.1" fill="#e0332f"/>
<circle cx="553.70" cy="860.20" r="6.1" fill="#e0332f"/>
<circle cx="565.29" cy="860.70" r="6.1" fill="#e0332f"/>
<circle cx="576.89" cy="861.60" r="6.1" fill="#e0332f"/>
<circle cx="588.49" cy="862.80" r="6.1" fill="#e0332f"/>
<circle cx="600.09" cy="864.40" r="6.1" fill="#e0332f"/>
<circle cx="611.68" cy="865.80" r="6.1" fill="#e0332f"/>
<circle cx="623.28" cy="867.20" r="6.1" fill="#e0332f"/>
<circle cx="634.88" cy="868.10" r="6.1" fill="#e0332f"/>
<circle cx="646.48" cy="869.80" r="6.1" fill="#e0332f"/>
<circle cx="658.08" cy="871.30" r="6.1" fill="#e0332f"/>
<circle cx="669.67" cy="873.30" r="6.1" fill="#e0332f"/>
<circle cx="681.27" cy="874.40" r="6.1" fill="#e0332f"/>
<circle cx="692.87" cy="875.60" r="6.1" fill="#e0332f"/>
<circle cx="704.47" cy="878.00" r="6.1" fill="#e0332f"/>
<circle cx="716.06" cy="879.40" r="6.1" fill="#e0332f"/>
<circle cx="727.66" cy="881.10" r="6.1" fill="#e0332f"/>
<circle cx="739.26" cy="882.00" r="6.1" fill="#e0332f"/>
<circle cx="750.86" cy="882.20" r="6.1" fill="#e0332f"/>
<circle cx="762.45" cy="884.60" r="6.1" fill="#e0332f"/>
<circle cx="774.05" cy="885.00" r="6.1" fill="#e0332f"/>
<circle cx="785.65" cy="886.10" r="6.1" fill="#e0332f"/>
<circle cx="797.25" cy="887.80" r="6.1" fill="#e0332f"/>
<circle cx="808.84" cy="888.65" r="6.1" fill="#e0332f"/>
<circle cx="820.44" cy="889.50" r="6.1" fill="#e0332f"/>
<circle cx="832.04" cy="890.35" r="6.1" fill="#e0332f"/>
<circle cx="843.63" cy="891.20" r="6.1" fill="#e0332f"/>
<circle cx="855.23" cy="892.05" r="6.1" fill="#e0332f"/>
<circle cx="866.83" cy="892.90" r="6.1" fill="#e0332f"/>
<circle cx="878.43" cy="893.75" r="6.1" fill="#e0332f"/>
<circle cx="890.03" cy="894.60" r="6.1" fill="#e0332f"/>
<circle cx="901.62" cy="896.50" r="6.1" fill="#e0332f"/>
<circle cx="913.22" cy="896.90" r="6.1" fill="#e0332f"/>
<circle cx="924.82" cy="897.80" r="6.1" fill="#e0332f"/>
<circle cx="936.41" cy="898.70" r="6.1" fill="#e0332f"/>
<circle cx="948.01" cy="901.10" r="6.1" fill="#e0332f"/>
<circle cx="959.61" cy="902.20" r="6.1" fill="#e0332f"/>
<circle cx="971.21" cy="903.10" r="6.1" fill="#e0332f"/>
<circle cx="982.80" cy="905.30" r="6.1" fill="#e0332f"/>
<circle cx="994.40" cy="907.20" r="6.1" fill="#e0332f"/>
<circle cx="1006.00" cy="909.20" r="6.1" fill="#e0332f"/>
<circle cx="89.80" cy="700.10" r="5" fill="none" stroke="#d23a44" stroke-width="2.6"/>
<circle cx="101.40" cy="716.40" r="5" fill="none" stroke="#d23a44" stroke-width="2.6"/>
<circle cx="112.99" cy="720.40" r="5" fill="none" stroke="#d23a44" stroke-width="2.6"/>
<circle cx="124.59" cy="714.40" r="5" fill="none" stroke="#d23a44" stroke-width="2.6"/>
<circle cx="136.19" cy="716.70" r="5" fill="none" stroke="#d23a44" stroke-width="2.6"/>
<circle cx="147.78" cy="717.40" r="5" fill="none" stroke="#d23a44" stroke-width="2.6"/>
<circle cx="159.38" cy="720.10" r="5" fill="none" stroke="#d23a44" stroke-width="2.6"/>
<circle cx="170.98" cy="721.10" r="5" fill="none" stroke="#d23a44" stroke-width="2.6"/>
<circle cx="182.58" cy="713.70" r="5" fill="none" stroke="#d23a44" stroke-width="2.6"/>
<circle cx="194.18" cy="722.90" r="5" fill="none" stroke="#d23a44" stroke-width="2.6"/>
<circle cx="205.77" cy="718.10" r="5" fill="none" stroke="#d23a44" stroke-width="2.6"/>
<circle cx="217.37" cy="721.90" r="5" fill="none" stroke="#d23a44" stroke-width="2.6"/>
<circle cx="228.97" cy="720.70" r="5" fill="none" stroke="#d23a44" stroke-width="2.6"/>
<circle cx="240.56" cy="720.20" r="5" fill="none" stroke="#d23a44" stroke-width="2.6"/>
<circle cx="252.16" cy="719.90" r="5" fill="none" stroke="#d23a44" stroke-width="2.6"/>
<circle cx="263.76" cy="720.50" r="5" fill="none" stroke="#d23a44" stroke-width="2.6"/>
<circle cx="275.36" cy="720.20" r="5" fill="none" stroke="#d23a44" stroke-width="2.6"/>
<circle cx="286.95" cy="721.40" r="5" fill="none" stroke="#d23a44" stroke-width="2.6"/>
<circle cx="298.55" cy="721.70" r="5" fill="none" stroke="#d23a44" stroke-width="2.6"/>
<circle cx="310.15" cy="722.10" r="5" fill="none" stroke="#d23a44" stroke-width="2.6"/>
<circle cx="321.75" cy="722.40" r="5" fill="none" stroke="#d23a44" stroke-width="2.6"/>
<circle cx="333.34" cy="722.40" r="5" fill="none" stroke="#d23a44" stroke-width="2.6"/>
<circle cx="344.94" cy="723.10" r="5" fill="none" stroke="#d23a44" stroke-width="2.6"/>
<circle cx="356.54" cy="719.40" r="5" fill="none" stroke="#d23a44" stroke-width="2.6"/>
<circle cx="368.14" cy="723.90" r="5" fill="none" stroke="#d23a44" stroke-width="2.6"/>
<circle cx="379.73" cy="724.30" r="5" fill="none" stroke="#d23a44" stroke-width="2.6"/>
<circle cx="391.33" cy="724.60" r="5" fill="none" stroke="#d23a44" stroke-width="2.6"/>
<circle cx="402.93" cy="724.20" r="5" fill="none" stroke="#d23a44" stroke-width="2.6"/>
<circle cx="414.53" cy="725.10" r="5" fill="none" stroke="#d23a44" stroke-width="2.6"/>
<circle cx="426.12" cy="724.60" r="5" fill="none" stroke="#d23a44" stroke-width="2.6"/>
<circle cx="437.72" cy="721.70" r="5" fill="none" stroke="#d23a44" stroke-width="2.6"/>
<circle cx="449.32" cy="726.90" r="5" fill="none" stroke="#d23a44" stroke-width="2.6"/>
<circle cx="460.92" cy="719.90" r="5" fill="none" stroke="#d23a44" stroke-width="2.6"/>
<circle cx="472.51" cy="729.10" r="5" fill="none" stroke="#d23a44" stroke-width="2.6"/>
<circle cx="484.11" cy="720.90" r="5" fill="none" stroke="#d23a44" stroke-width="2.6"/>
<circle cx="495.71" cy="722.40" r="5" fill="none" stroke="#d23a44" stroke-width="2.6"/>
<circle cx="507.31" cy="723.10" r="5" fill="none" stroke="#d23a44" stroke-width="2.6"/>
<circle cx="518.91" cy="726.10" r="5" fill="none" stroke="#d23a44" stroke-width="2.6"/>
<circle cx="530.50" cy="728.80" r="5" fill="none" stroke="#d23a44" stroke-width="2.6"/>
<circle cx="542.10" cy="723.90" r="5" fill="none" stroke="#d23a44" stroke-width="2.6"/>
<circle cx="553.70" cy="725.40" r="5" fill="none" stroke="#d23a44" stroke-width="2.6"/>
<circle cx="565.29" cy="720.50" r="5" fill="none" stroke="#d23a44" stroke-width="2.6"/>
<circle cx="576.89" cy="725.40" r="5" fill="none" stroke="#d23a44" stroke-width="2.6"/>
<circle cx="588.49" cy="724.60" r="5" fill="none" stroke="#d23a44" stroke-width="2.6"/>
<circle cx="600.09" cy="726.40" r="5" fill="none" stroke="#d23a44" stroke-width="2.6"/>
<circle cx="611.68" cy="726.10" r="5" fill="none" stroke="#d23a44" stroke-width="2.6"/>
<circle cx="623.28" cy="728.80" r="5" fill="none" stroke="#d23a44" stroke-width="2.6"/>
<circle cx="634.88" cy="725.80" r="5" fill="none" stroke="#d23a44" stroke-width="2.6"/>
<circle cx="646.48" cy="727.30" r="5" fill="none" stroke="#d23a44" stroke-width="2.6"/>
<circle cx="658.08" cy="728.30" r="5" fill="none" stroke="#d23a44" stroke-width="2.6"/>
<circle cx="669.67" cy="726.10" r="5" fill="none" stroke="#d23a44" stroke-width="2.6"/>
<circle cx="681.27" cy="725.10" r="5" fill="none" stroke="#d23a44" stroke-width="2.6"/>
<circle cx="692.87" cy="729.80" r="5" fill="none" stroke="#d23a44" stroke-width="2.6"/>
<circle cx="704.47" cy="727.90" r="5" fill="none" stroke="#d23a44" stroke-width="2.6"/>
<circle cx="716.06" cy="724.60" r="5" fill="none" stroke="#d23a44" stroke-width="2.6"/>
<circle cx="727.66" cy="729.80" r="5" fill="none" stroke="#d23a44" stroke-width="2.6"/>
<circle cx="739.26" cy="722.90" r="5" fill="none" stroke="#d23a44" stroke-width="2.6"/>
<circle cx="750.86" cy="723.10" r="5" fill="none" stroke="#d23a44" stroke-width="2.6"/>
<circle cx="762.45" cy="730.60" r="5" fill="none" stroke="#d23a44" stroke-width="2.6"/>
<circle cx="774.05" cy="716.50" r="5" fill="none" stroke="#d23a44" stroke-width="2.6"/>
<circle cx="785.65" cy="725.40" r="5" fill="none" stroke="#d23a44" stroke-width="2.6"/>
<circle cx="797.25" cy="721.70" r="5" fill="none" stroke="#d23a44" stroke-width="2.6"/>
<circle cx="808.84" cy="715.40" r="5" fill="none" stroke="#d23a44" stroke-width="2.6"/>
<circle cx="820.44" cy="720.90" r="5" fill="none" stroke="#d23a44" stroke-width="2.6"/>
<circle cx="832.04" cy="721.00" r="5" fill="none" stroke="#d23a44" stroke-width="2.6"/>
<circle cx="843.63" cy="720.50" r="5" fill="none" stroke="#d23a44" stroke-width="2.6"/>
<circle cx="855.23" cy="720.50" r="5" fill="none" stroke="#d23a44" stroke-width="2.6"/>
<circle cx="866.83" cy="722.30" r="5" fill="none" stroke="#d23a44" stroke-width="2.6"/>
<circle cx="878.43" cy="719.60" r="5" fill="none" stroke="#d23a44" stroke-width="2.6"/>
<circle cx="890.03" cy="724.90" r="5" fill="none" stroke="#d23a44" stroke-width="2.6"/>
<circle cx="901.62" cy="721.70" r="5" fill="none" stroke="#d23a44" stroke-width="2.6"/>
<circle cx="913.22" cy="719.60" r="5" fill="none" stroke="#d23a44" stroke-width="2.6"/>
<circle cx="924.82" cy="717.00" r="5" fill="none" stroke="#d23a44" stroke-width="2.6"/>
<circle cx="936.41" cy="722.30" r="5" fill="none" stroke="#d23a44" stroke-width="2.6"/>
<circle cx="948.01" cy="720.00" r="5" fill="none" stroke="#d23a44" stroke-width="2.6"/>
<circle cx="959.61" cy="717.00" r="5" fill="none" stroke="#d23a44" stroke-width="2.6"/>
<circle cx="971.21" cy="723.50" r="5" fill="none" stroke="#d23a44" stroke-width="2.6"/>
<circle cx="982.80" cy="717.90" r="5" fill="none" stroke="#d23a44" stroke-width="2.6"/>
<circle cx="994.40" cy="721.00" r="5" fill="none" stroke="#d23a44" stroke-width="2.6"/>
<circle cx="1006.00" cy="717.90" r="5" fill="none" stroke="#d23a44" stroke-width="2.6"/>
</g>
<text x="42.67" y="978.37" font-size="23.6" fill="#111">50</text>
<text x="29.55" y="921.63" font-size="23.6" fill="#111">100</text>
<text x="29.55" y="864.90" font-size="23.6" fill="#111">150</text>
<text x="29.55" y="808.17" font-size="23.6" fill="#111">200</text>
<text x="29.55" y="751.43" font-size="23.6" fill="#111">250</text>
<text x="29.55" y="694.70" font-size="23.6" fill="#111">300</text>
<text x="1015.60" y="1036.20" font-size="23.6" fill="#111">60</text>
<text x="1015.60" y="996.66" font-size="23.6" fill="#111">65</text>
<text x="1015.59" y="957.12" font-size="23.6" fill="#111">70</text>
<text x="1015.59" y="917.59" font-size="23.6" fill="#111">75</text>
<text x="1015.77" y="878.05" font-size="23.6" fill="#111">80</text>
<text x="1015.77" y="838.51" font-size="23.6" fill="#111">85</text>
<text x="1015.69" y="798.98" font-size="23.6" fill="#111">90</text>
<text x="1015.69" y="759.44" font-size="23.6" fill="#111">95</text>
<text x="1015.00" y="719.90" font-size="23.6" fill="#111">100</text>
<text x="71.64" y="1053.60" font-size="23.6" fill="#111">0</text>
<text x="180.61" y="1053.60" font-size="23.6" fill="#111">10</text>
<text x="296.89" y="1053.60" font-size="23.6" fill="#111">20</text>
<text x="413.01" y="1053.60" font-size="23.6" fill="#111">30</text>
<text x="529.16" y="1053.60" font-size="23.6" fill="#111">40</text>
<text x="644.94" y="1053.60" font-size="23.6" fill="#111">50</text>
<text x="760.79" y="1053.60" font-size="23.6" fill="#111">60</text>
<text x="876.76" y="1053.60" font-size="23.6" fill="#111">70</text>
<text x="992.82" y="1053.60" font-size="23.6" fill="#111">80</text>
<text x="470.69" y="1085.60" font-size="23.911907810499358" fill="#111" >Cycle number</text>
<text x="519.38" y="1116.50" font-size="24.495864828812785" fill="#111" >(b)</text>
<text transform="translate(17.60,993.40) rotate(-90)" x="-1.09" y="0" font-size="24.03" fill="#111">Specific capacity/(mAh/g)</text>
<text transform="translate(1074.90,973.40) rotate(-90)" x="-1.22" y="0" font-size="24.04" fill="#111">Coulombic efficiency/%</text>
<text x="191.13" y="781.40" font-size="24" fill="#111" >Li||NMC811</text>
<text x="318" y="781.4" font-size="24" fill="#111">,</text>
<text x="342.06" y="781.40" font-size="24" fill="#111" >0.3C Charge/Discharge</text>
<text x="299.29" y="806.20" font-size="24" fill="#111" >3.0~4.3 V, −40</text>
<circle cx="465.6" cy="790.8" r="1.7" fill="none" stroke="#111" stroke-width="1.1"/>
<text x="466" y="807" font-size="23" fill="#111" font-family="Liberation Serif" textLength="17" lengthAdjust="spacingAndGlyphs">C</text>
<text x="89.53" y="1013.00" font-size="24" fill="#111" >LiFSI-LiNO</text>
<text x="206" y="1016" font-size="15" fill="#111">3</text>
<text x="215.5" y="1013" font-size="24" fill="#111">/THF</text>
<text x="629.25" y="942.80" font-size="24" fill="#111" >Active Mass Loading: 20.3 mg/cm</text>
<text x="988.3" y="935" font-size="14.5" fill="#111">2</text>
<text x="743.93" y="967.80" font-size="24" fill="#111" >Li foil: 40 μm</text>
<text x="762.43" y="992.80" font-size="24" fill="#111" >N/P: 2.31</text>
<g stroke="#1a1a1a" stroke-width="2" fill="none">
<rect x="715.6" y="763.4" width="241.10000000000002" height="75.89999999999998"/>
<path d="M715.6 839.30H711.6"/>
<path d="M956.7 839.30H953.7"/>
<path d="M715.6 824.12H711.6"/>
<path d="M956.7 824.12H953.7"/>
<path d="M715.6 808.94H711.6"/>
<path d="M956.7 808.94H953.7"/>
<path d="M715.6 793.76H711.6"/>
<path d="M956.7 793.76H953.7"/>
<path d="M715.6 778.58H711.6"/>
<path d="M956.7 778.58H953.7"/>
<path d="M715.6 763.40H711.6"/>
<path d="M956.7 763.40H953.7"/>
<path d="M715.6 831.71H713.1"/>
<path d="M715.6 816.53H713.1"/>
<path d="M715.6 801.35H713.1"/>
<path d="M715.6 786.17H713.1"/>
<path d="M715.6 770.99H713.1"/>
<path d="M739.71 839.3V834.3"/>
<path d="M763.82 839.3V834.3"/>
<path d="M787.93 839.3V834.3"/>
<path d="M812.04 839.3V834.3"/>
<path d="M836.15 839.3V834.3"/>
<path d="M860.26 839.3V834.3"/>
<path d="M884.37 839.3V834.3"/>
<path d="M908.48 839.3V834.3"/>
<path d="M932.59 839.3V834.3"/>
</g>
<g clip-path="url(#insetclip)">
<circle cx="715.60" cy="772.5" r="3.85" fill="none" stroke="#cc3745" stroke-width="2.8"/>
<circle cx="727.65" cy="788.8" r="3.85" fill="none" stroke="#cc3745" stroke-width="2.8"/>
<circle cx="739.71" cy="782.1" r="3.85" fill="none" stroke="#cc3745" stroke-width="2.8"/>
<circle cx="751.76" cy="770.6" r="3.85" fill="none" stroke="#cc3745" stroke-width="2.8"/>
<circle cx="763.82" cy="781.4" r="3.85" fill="none" stroke="#cc3745" stroke-width="2.8"/>
<circle cx="775.88" cy="780.9" r="3.85" fill="none" stroke="#cc3745" stroke-width="2.8"/>
<circle cx="787.93" cy="780.6" r="3.85" fill="none" stroke="#cc3745" stroke-width="2.8"/>
<circle cx="799.99" cy="780.6" r="3.85" fill="none" stroke="#cc3745" stroke-width="2.8"/>
<circle cx="812.04" cy="782.4" r="3.85" fill="none" stroke="#cc3745" stroke-width="2.8"/>
<circle cx="824.10" cy="778.3" r="3.85" fill="none" stroke="#cc3745" stroke-width="2.8"/>
<circle cx="836.15" cy="788.3" r="3.85" fill="none" stroke="#cc3745" stroke-width="2.8"/>
<circle cx="848.21" cy="782" r="3.85" fill="none" stroke="#cc3745" stroke-width="2.8"/>
<circle cx="860.26" cy="778.7" r="3.85" fill="none" stroke="#cc3745" stroke-width="2.8"/>
<circle cx="872.32" cy="773.5" r="3.85" fill="none" stroke="#cc3745" stroke-width="2.8"/>
<circle cx="884.37" cy="782.7" r="3.85" fill="none" stroke="#cc3745" stroke-width="2.8"/>
<circle cx="896.43" cy="779.1" r="3.85" fill="none" stroke="#cc3745" stroke-width="2.8"/>
<circle cx="908.48" cy="773.1" r="3.85" fill="none" stroke="#cc3745" stroke-width="2.8"/>
<circle cx="920.54" cy="785.4" r="3.85" fill="none" stroke="#cc3745" stroke-width="2.8"/>
<circle cx="932.59" cy="776" r="3.85" fill="none" stroke="#cc3745" stroke-width="2.8"/>
<circle cx="944.64" cy="781.4" r="3.85" fill="none" stroke="#cc3745" stroke-width="2.8"/>
<circle cx="956.70" cy="771.6" r="3.85" fill="none" stroke="#cc3745" stroke-width="2.8"/>
</g>
<text x="707.28" y="859.40" font-size="17.3" fill="#111">60</text>
<text x="731.48" y="859.40" font-size="17.3" fill="#111">62</text>
<text x="755.41" y="859.40" font-size="17.3" fill="#111">64</text>
<text x="779.65" y="859.40" font-size="17.3" fill="#111">66</text>
<text x="803.76" y="859.40" font-size="17.3" fill="#111">68</text>
<text x="827.82" y="859.40" font-size="17.3" fill="#111">70</text>
<text x="852.03" y="859.40" font-size="17.3" fill="#111">72</text>
<text x="875.96" y="859.40" font-size="17.3" fill="#111">74</text>
<text x="900.20" y="859.40" font-size="17.3" fill="#111">76</text>
<text x="924.30" y="859.40" font-size="17.3" fill="#111">78</text>
<text x="948.44" y="859.40" font-size="17.3" fill="#111">80</text>
<text x="962.65" y="845.50" font-size="16" fill="#111">95</text>
<text x="962.65" y="829.60" font-size="16" fill="#111">96</text>
<text x="962.65" y="813.70" font-size="16" fill="#111">97</text>
<text x="962.65" y="797.80" font-size="16" fill="#111">98</text>
<text x="962.65" y="781.90" font-size="16" fill="#111">99</text>
<text x="962.18" y="766.00" font-size="16" fill="#111">100</text>
<rect x="30.66" y="919.27" width="4.82" height="3.56" fill="#fff"/>
<rect x="37.57" y="919.27" width="4.64" height="3.56" fill="#fff"/>
<rect x="30.66" y="862.54" width="4.82" height="3.56" fill="#fff"/>
<rect x="37.57" y="862.54" width="4.64" height="3.56" fill="#fff"/>
<rect x="1016.12" y="717.54" width="4.82" height="3.56" fill="#fff"/>
<rect x="1023.02" y="717.54" width="4.64" height="3.56" fill="#fff"/>
<rect x="181.73" y="1051.24" width="4.82" height="3.56" fill="#fff"/>
<rect x="188.63" y="1051.24" width="4.64" height="3.56" fill="#fff"/>
<rect x="291.42" y="779.01" width="4.89" height="3.59" fill="#fff"/>
<rect x="298.44" y="779.01" width="4.71" height="3.59" fill="#fff"/>
<rect x="302.99" y="779.01" width="4.89" height="3.59" fill="#fff"/>
<rect x="310.01" y="779.01" width="4.71" height="3.59" fill="#fff"/>
<rect x="850.28" y="990.41" width="4.89" height="3.59" fill="#fff"/>
<rect x="857.29" y="990.41" width="4.71" height="3.59" fill="#fff"/>
<rect x="962.77" y="764.20" width="3.43" height="3.00" fill="#fff"/>
<rect x="967.62" y="764.20" width="3.30" height="3.00" fill="#fff"/>
</svg></body></html>
